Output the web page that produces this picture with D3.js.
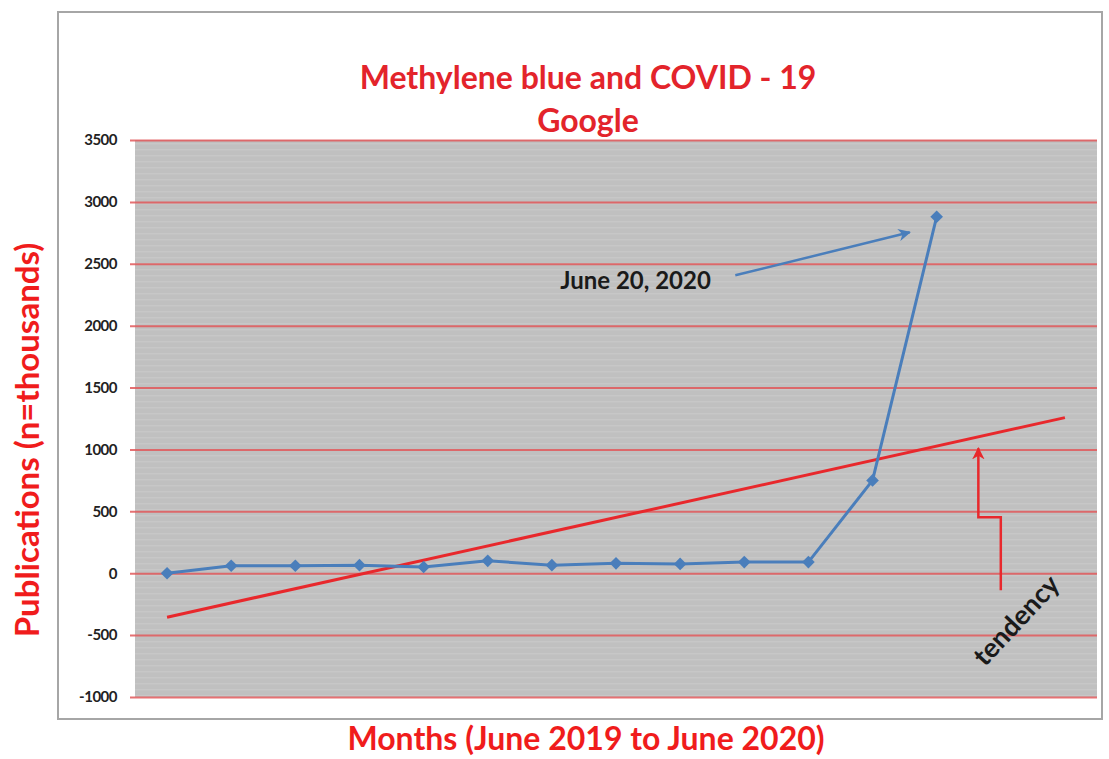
<!DOCTYPE html>
<html>
<head>
<meta charset="utf-8">
<script src="https://cdn.jsdelivr.net/npm/d3@7"></script>
<style>
  body { margin: 0; background: #fff; }
  text { font-family: Lato, "Open Sans", sans-serif; }
</style>
</head>
<body>
<div class="chart_area"></div>
<script>
// months June 2019 .. June 2020, publications (thousands)
var months = ["Jun 19", "Jul 19", "Aug 19", "Sep 19", "Oct 19", "Nov 19", "Dec 19",
              "Jan 20", "Feb 20", "Mar 20", "Apr 20", "May 20", "Jun 20"];
var publications = [0, 60, 60, 65, 50, 100, 65, 80, 75, 90, 90, 750, 2880];
var yTicks = [-1000, -500, 0, 500, 1000, 1500, 2000, 2500, 3000, 3500];
var forecastPeriods = 2; // trendline goes two months ahead

var width = 1109, height = 759;
var margin = {top: 140, right: 12, bottom: 62, left: 135},
    plotW = width - margin.left - margin.right,
    plotH = height - margin.top - margin.bottom;

var svg = d3.select(".chart_area").append("svg")
    .attr("width", width)
    .attr("height", height);

// outer chart frame
svg.append("rect")
    .attr("x", 58).attr("y", 12)
    .attr("width", 1044).attr("height", 707)
    .attr("fill", "#fff")
    .attr("stroke", "#a6a6a6")
    .attr("stroke-width", 2);

var g = svg.append("g")
    .attr("transform", "translate(" + margin.left + "," + margin.top + ")");

var nCats = months.length + forecastPeriods;
var x = d3.scaleLinear().domain([0, nCats]).range([0, plotW]);
var y = d3.scaleLinear().domain([-1000, 3500]).range([plotH, 0]);
var cx = function(i) { return x(i + 0.5); };

// grey plot background with faint scan stripes
var defs = svg.append("defs");
var pat = defs.append("pattern")
    .attr("id", "stripes")
    .attr("width", 8).attr("height", 6)
    .attr("patternUnits", "userSpaceOnUse");
pat.append("rect").attr("width", 8).attr("height", 6).attr("fill", "#c0c0c0");
pat.append("rect").attr("y", 3).attr("width", 8).attr("height", 1.5).attr("fill", "#c7c7c7");

g.append("rect")
    .attr("width", plotW).attr("height", plotH)
    .attr("fill", "url(#stripes)");

// y axis with red gridlines
var yAxis = g.append("g")
    .call(d3.axisLeft(y).tickValues(yTicks).tickSize(-plotW - 5).tickPadding(18)
      .tickFormat(function(d) { return String(d); }));
yAxis.select(".domain").remove();
yAxis.selectAll(".tick line")
    .attr("x1", -5)
    .attr("x2", plotW)
    .style("stroke", "#e0585a")
    .style("stroke-width", 2)
    .style("opacity", 0.85);
yAxis.selectAll("text")
    .style("font-size", "15px")
    .style("font-weight", "bold")
    .style("letter-spacing", "-0.5px")
    .style("fill", "#222");

// linear trendline (least squares, like the spreadsheet one)
var xs = publications.map(function(d, i) { return i; });
var mx = d3.mean(xs), my = d3.mean(publications);
var slope = d3.sum(xs, function(xi, i) { return (xi - mx) * (publications[i] - my); }) /
            d3.sum(xs, function(xi) { return (xi - mx) * (xi - mx); });
var icpt = my - slope * mx;
var trend = [0, nCats - 1].map(function(i) { return [i, icpt + slope * i]; });

g.append("line")
    .attr("x1", cx(trend[0][0])).attr("y1", y(trend[0][1]))
    .attr("x2", cx(trend[1][0])).attr("y2", y(trend[1][1]))
    .attr("stroke", "#e8282c")
    .attr("stroke-width", 3);

// data line
var line = d3.line()
    .x(function(d, i) { return cx(i); })
    .y(function(d) { return y(d); });

g.append("path")
    .datum(publications)
    .attr("d", line)
    .attr("fill", "none")
    .attr("stroke", "#4a7ebb")
    .attr("stroke-width", 3);

g.selectAll(".pt")
    .data(publications)
    .enter().append("path")
    .attr("class", "pt")
    .attr("d", d3.symbol().type(d3.symbolSquare).size(80))
    .attr("transform", function(d, i) { return "translate(" + cx(i) + "," + y(d) + ") rotate(45)"; })
    .attr("fill", "#4a7ebb");

// arrowheads
defs.append("marker")
    .attr("id", "blueHead").attr("viewBox", "0 0 10 10")
    .attr("refX", 9).attr("refY", 5)
    .attr("markerWidth", 5).attr("markerHeight", 5)
    .attr("orient", "auto")
  .append("path").attr("d", "M0,0 L10,5 L0,10 L3,5 Z").attr("fill", "#4a7ebb");
defs.append("marker")
    .attr("id", "redHead").attr("viewBox", "0 0 10 10")
    .attr("refX", 9).attr("refY", 5)
    .attr("markerWidth", 5).attr("markerHeight", 5)
    .attr("orient", "auto")
  .append("path").attr("d", "M0,0 L10,5 L0,10 L3,5 Z").attr("fill", "#e8282c");

// "June 20, 2020" callout
g.append("text")
    .attr("x", cx(6.13)).attr("y", y(2367))
    .attr("dy", "0.35em")
    .style("font-size", "24px")
    .style("font-weight", "bold")
    .style("fill", "#1a1a1a")
    .text("June 20, 2020");
g.append("line")
    .attr("x1", cx(8.86)).attr("y1", y(2407))
    .attr("x2", cx(11.58)).attr("y2", y(2754))
    .attr("stroke", "#4a7ebb")
    .attr("stroke-width", 2.5)
    .attr("marker-end", "url(#blueHead)");

// tendency callout
var tend = [[13.0, -137], [13.0, 452], [12.65, 452], [12.65, 1010]];
g.append("path")
    .attr("d", d3.line().x(function(d) { return cx(d[0]); }).y(function(d) { return y(d[1]); })(tend))
    .attr("fill", "none")
    .attr("stroke", "#e8282c")
    .attr("stroke-width", 2.5)
    .attr("marker-end", "url(#redHead)");
g.append("text")
    .attr("transform", "translate(" + cx(13.24) + "," + y(-380) + ") rotate(-47)")
    .attr("text-anchor", "middle")
    .attr("dy", "0.35em")
    .style("font-size", "27px")
    .style("font-weight", "bold")
    .style("fill", "#1a1a1a")
    .text("tendency");

// titles
svg.append("text")
    .attr("x", 588).attr("y", 89)
    .attr("text-anchor", "middle")
    .style("font-size", "32px").style("font-weight", "bold").style("fill", "#e3242b")
    .text("Methylene blue and COVID - 19");
svg.append("text")
    .attr("x", 588).attr("y", 132)
    .attr("text-anchor", "middle")
    .style("font-size", "32px").style("font-weight", "bold").style("fill", "#e3242b")
    .text("Google");

svg.append("text")
    .attr("transform", "translate(39,440) rotate(-90)")
    .attr("text-anchor", "middle")
    .style("font-size", "33px").style("font-weight", "bold").style("fill", "#f01c1c")
    .text("Publications (n=thousands)");

svg.append("text")
    .attr("x", 586).attr("y", 750)
    .attr("text-anchor", "middle")
    .style("font-size", "32px").style("font-weight", "bold").style("fill", "#f01c1c")
    .text("Months (June 2019 to June 2020)");
</script>
</body>
</html>
